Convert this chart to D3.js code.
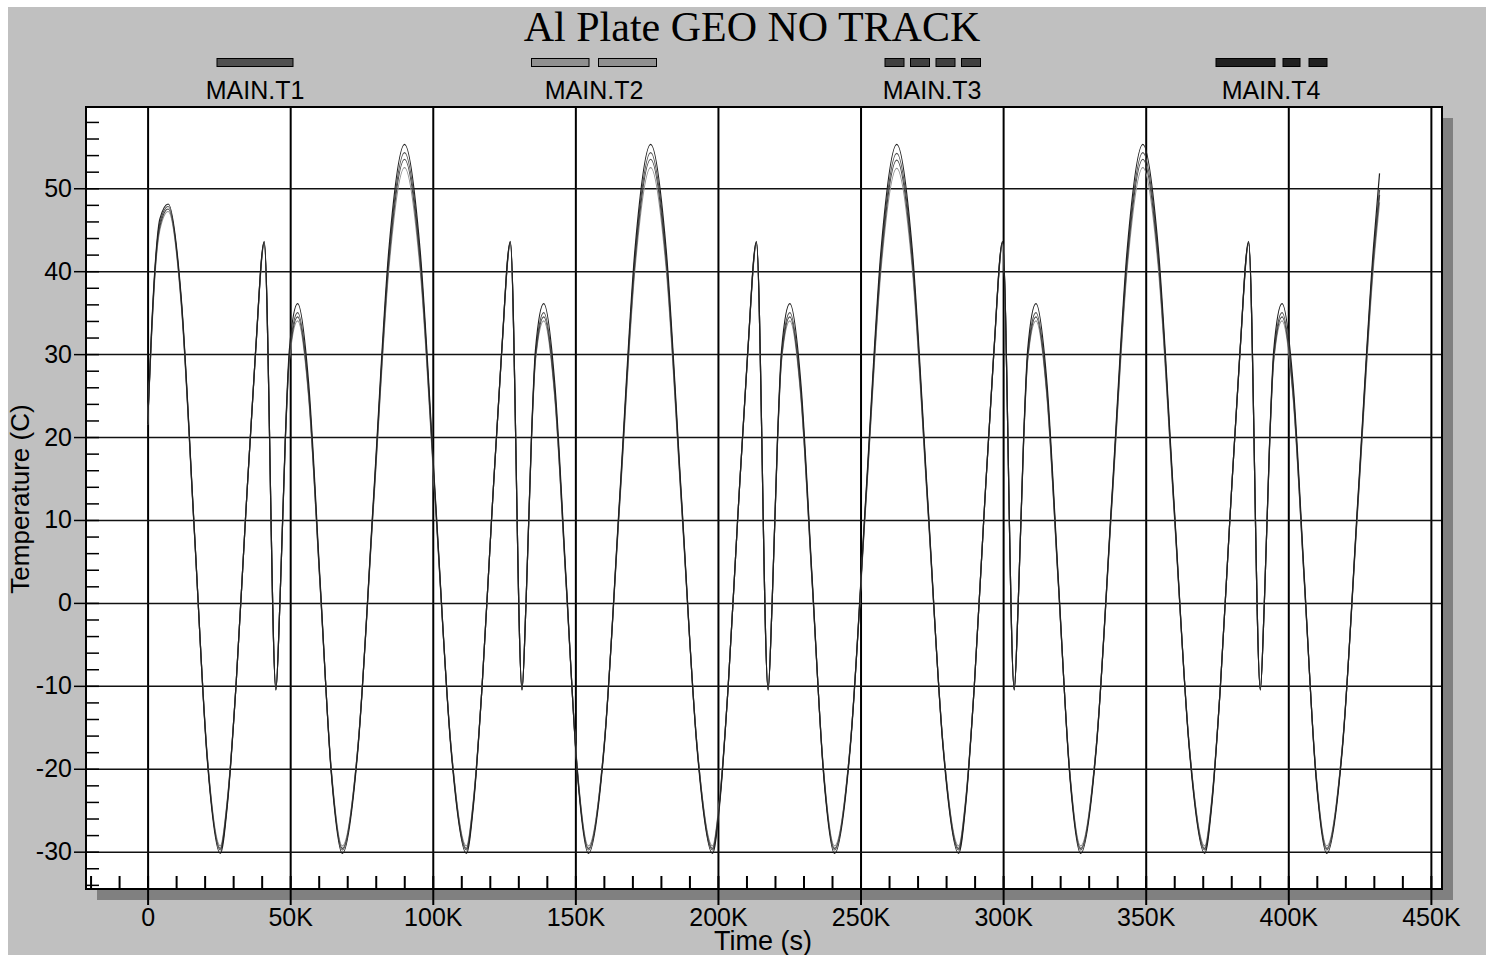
<!DOCTYPE html>
<html>
<head>
<meta charset="utf-8">
<script src="https://cdn.jsdelivr.net/npm/d3@7"></script>
<style>
  html, body { margin: 0; padding: 0; background: #fff; }
  svg text { font-family: "Liberation Sans", Arial, sans-serif; fill: #000; }
</style>
</head>
<body>
<div id="chart"></div>
<script>
// text
var chartTitle = 'Al Plate GEO NO TRACK';
var xLabel = 'Time (s)';
var yLabel = 'Temperature (C)';
var seriesNames = ['MAIN.T1', 'MAIN.T2', 'MAIN.T3', 'MAIN.T4'];
var seriesColors = ['#505050', '#909090', '#404040', '#202020'];

// ticks
var xTicks = [0, 50000, 100000, 150000, 200000, 250000, 300000, 350000, 400000, 450000];
var xTickLabels = ['0', '50K', '100K', '150K', '200K', '250K', '300K', '350K', '400K', '450K'];
var yTicks = [-30, -20, -10, 0, 10, 20, 30, 40, 50];
var yTickLabels = ['-30', '-20', '-10', '0', '10', '20', '30', '40', '50'];

// time (s) shared by all series
var timeS = [
  0, 1300, 2600, 4300, 7200, 11800, 16350, 20900, 25500,
  28000, 31000, 34300, 37800, 40900, 45000, 46400, 48300, 49700, 52600, 56500, 60450, 64400, 68300, 73750, 79200, 84650, 90100, 95500, 100950, 106400, 111800,
  114300, 117300, 120600, 124100, 127200, 131300, 132700, 134600, 136000, 138900, 142800, 146750, 150700, 154600, 160050, 165500, 170950, 176400, 181800, 187250, 192700, 198100,
  200600, 203600, 206900, 210400, 213500, 217600, 219000, 220900, 222300, 225200, 229100, 233050, 237000, 240900, 246350, 251800, 257250, 262700, 268100, 273550, 279000, 284400,
  286900, 289900, 293200, 296700, 299800, 303900, 305300, 307200, 308600, 311500, 315400, 319350, 323300, 327200, 332650, 338100, 343550, 349000, 354400, 359850, 365300, 370700,
  373200, 376200, 379500, 383000, 386100, 390200, 391600, 393500, 394900, 397800, 401700, 405650, 409600, 413500,
  418950, 424400, 429850, 432000
];

var mainT1 = [
  21.5, 32, 40.2, 45.8, 47.8, 36.5, 9, -18.6, -29.8,
  -24, -10, 10, 30, 43.5, -10.5, 0, 19.8, 29.8, 35.0, 25.5, 2.6, -20.3, -29.8, -17.4, 12.2, 41.9, 54.3, 41.9, 12.2, -17.4, -29.8,
  -24, -10, 10, 30, 43.5, -10.5, 0, 19.8, 29.8, 35.0, 25.5, 2.6, -20.3, -29.8, -17.4, 12.2, 41.9, 54.3, 41.9, 12.2, -17.4, -29.8,
  -24, -10, 10, 30, 43.5, -10.5, 0, 19.8, 29.8, 35.0, 25.5, 2.6, -20.3, -29.8, -17.4, 12.2, 41.9, 54.2, 41.9, 12.2, -17.4, -29.8,
  -24, -10, 10, 30, 43.5, -10.5, 0, 19.8, 29.8, 35.0, 25.5, 2.6, -20.3, -29.8, -17.4, 12.2, 41.9, 54.3, 41.9, 12.2, -17.4, -29.8,
  -24, -10, 10, 30, 43.5, -10.5, 0, 19.8, 29.8, 35.0, 25.5, 2.6, -20.3, -29.8,
  -17.4, 12.2, 41.9, 49.8
];

var mainT2 = [
  21.5, 31.5, 39.6, 45.0, 47.2, 36.0, 8.8, -18.3, -29.3,
  -23.6, -10, 10, 29.8, 43.2, -10.3, 0, 19.5, 29.2, 34.0, 24.7, 2.3, -20.0, -29.3, -17.3, 11.6, 40.5, 52.5, 40.5, 11.6, -17.3, -29.3,
  -23.6, -10, 10, 29.8, 43.2, -10.3, 0, 19.5, 29.2, 34.0, 24.7, 2.3, -20.0, -29.3, -17.3, 11.6, 40.5, 52.5, 40.5, 11.6, -17.3, -29.3,
  -23.6, -10, 10, 29.8, 43.2, -10.3, 0, 19.5, 29.2, 34.0, 24.7, 2.3, -20.0, -29.3, -17.3, 11.6, 40.5, 52.4, 40.5, 11.6, -17.3, -29.3,
  -23.6, -10, 10, 29.8, 43.2, -10.3, 0, 19.5, 29.2, 34.0, 24.7, 2.3, -20.0, -29.3, -17.3, 11.6, 40.5, 52.5, 40.5, 11.6, -17.3, -29.3,
  -23.6, -10, 10, 29.8, 43.2, -10.3, 0, 19.5, 29.2, 34.0, 24.7, 2.3, -20.0, -29.3,
  -17.3, 11.6, 40.5, 48.3
];

var mainT3 = [
  21.5, 31.8, 40.0, 45.4, 47.5, 36.3, 8.9, -18.5, -29.6,
  -23.8, -10, 10, 29.9, 43.4, -10.4, 0, 19.6, 29.5, 34.5, 25.1, 2.4, -20.2, -29.6, -17.4, 11.9, 41.3, 53.5, 41.3, 11.9, -17.4, -29.6,
  -23.8, -10, 10, 29.9, 43.4, -10.4, 0, 19.6, 29.5, 34.5, 25.1, 2.4, -20.2, -29.6, -17.4, 11.9, 41.3, 53.5, 41.3, 11.9, -17.4, -29.6,
  -23.8, -10, 10, 29.9, 43.4, -10.4, 0, 19.6, 29.5, 34.5, 25.1, 2.4, -20.2, -29.6, -17.4, 11.9, 41.3, 53.4, 41.3, 11.9, -17.4, -29.6,
  -23.8, -10, 10, 29.9, 43.4, -10.4, 0, 19.6, 29.5, 34.5, 25.1, 2.4, -20.2, -29.6, -17.4, 11.9, 41.3, 53.5, 41.3, 11.9, -17.4, -29.6,
  -23.8, -10, 10, 29.9, 43.4, -10.4, 0, 19.6, 29.5, 34.5, 25.1, 2.4, -20.2, -29.6,
  -17.4, 11.9, 41.3, 49.2
];

var mainT4 = [
  21.5, 32.3, 40.5, 46.3, 48.1, 36.8, 9.1, -18.8, -30.2,
  -24.3, -10, 10, 30, 43.6, -10.5, 0, 20, 30.5, 36.1, 26.4, 2.9, -20.5, -30.2, -17.7, 12.5, 42.8, 55.3, 42.8, 12.5, -17.7, -30.2,
  -24.3, -10, 10, 30, 43.6, -10.5, 0, 20, 30.5, 36.1, 26.4, 2.9, -20.5, -30.2, -17.7, 12.5, 42.8, 55.3, 42.8, 12.5, -17.7, -30.2,
  -24.3, -10, 10, 30, 43.6, -10.5, 0, 20, 30.5, 36.1, 26.4, 2.9, -20.5, -30.2, -17.7, 12.5, 42.8, 55.3, 42.8, 12.5, -17.7, -30.2,
  -24.3, -10, 10, 30, 43.6, -10.5, 0, 20, 30.5, 36.1, 26.4, 2.9, -20.5, -30.2, -17.7, 12.5, 42.8, 55.3, 42.8, 12.5, -17.7, -30.2,
  -24.3, -10, 10, 30, 43.6, -10.5, 0, 20, 30.5, 36.1, 26.4, 2.9, -20.5, -30.2,
  -17.7, 12.5, 42.8, 51.8
];

/*-------------------------------------------------------*/
function main(){
    var W = 1486, H = 955;
    var margin = { top: 107, left: 86, right: 44, bottom: 66 },
        width  = W - margin.left - margin.right,
        height = H - margin.top - margin.bottom;

    var x = d3.scaleLinear().domain([-21600, 453900]).range([0, width]);
    var y = d3.scaleLinear().domain([-34.5, 59.8]).range([height, 0]);

    var svg = d3.select('#chart').append('svg')
                .attr('width', W)
                .attr('height', H);

    // grey page
    svg.append('rect')
       .attr('x', 8).attr('y', 7)
       .attr('width', W - 8).attr('height', H - 7)
       .attr('fill', '#c0c0c0');

    // title
    svg.append('text')
       .attr('x', 752).attr('y', 41)
       .attr('text-anchor', 'middle')
       .style('font-family', '"Liberation Serif", "Times New Roman", serif')
       .style('font-size', '42px')
       .text(chartTitle);

    // legend
    var legendX = [255, 594, 932, 1271];
    var legendDash = [
        [[-38, 76]],
        [[-62.5, 57.5], [4.5, 58]],
        [[-47, 19], [-21.5, 19], [4, 19], [29.5, 19]],
        [[-55, 59], [12, 17], [38, 18]]
    ];
    var leg = svg.selectAll('.legend')
                 .data(seriesNames)
               .enter().append('g')
                 .attr('class', 'legend')
                 .attr('transform', (d, i) => 'translate(' + legendX[i] + ',0)');
    leg.each(function(d, i){
        d3.select(this).selectAll('rect')
          .data(legendDash[i])
        .enter().append('rect')
          .attr('x', (s) => s[0]).attr('y', 58.5)
          .attr('width', (s) => s[1]).attr('height', 8)
          .attr('fill', seriesColors[i])
          .attr('stroke', '#000').attr('stroke-width', 1);
    });
    leg.append('text')
       .attr('y', 99)
       .attr('text-anchor', 'middle')
       .style('font-size', '25px')
       .text((d) => d);

    // shadow + plot area
    svg.append('rect')
       .attr('x', margin.left + 11).attr('y', margin.top + 11)
       .attr('width', width).attr('height', height)
       .attr('fill', '#808080');

    var g = svg.append('g')
               .attr('transform', 'translate(' + margin.left + ',' + margin.top + ')');

    g.append('rect')
     .attr('width', width).attr('height', height)
     .attr('fill', '#fff');

    // grid lines
    g.append('g')
     .attr('class', 'grid')
     .call(d3.axisBottom(x).tickValues(xTicks).tickSize(height).tickFormat(''))
     .call((s) => s.select('.domain').remove())
     .selectAll('line')
       .attr('stroke', '#000').attr('stroke-width', 2);

    g.append('g')
     .attr('class', 'grid')
     .call(d3.axisRight(y).tickValues(yTicks).tickSize(width).tickFormat(''))
     .call((s) => s.select('.domain').remove())
     .selectAll('line')
       .attr('stroke', '#111').attr('stroke-width', 1.5);

    // minor ticks
    g.append('g')
     .call(d3.axisRight(y).tickValues(d3.range(-34, 59, 2)).tickSize(13).tickFormat(''))
     .call((s) => s.select('.domain').remove())
     .selectAll('line').attr('stroke', '#000').attr('stroke-width', 1.5);

    g.append('g')
     .attr('transform', 'translate(0,' + height + ')')
     .call(d3.axisTop(x).tickValues(d3.range(-20000, 450001, 10000)).tickSize(13).tickFormat(''))
     .call((s) => s.select('.domain').remove())
     .selectAll('line').attr('stroke', '#000').attr('stroke-width', 2);

    // series lines
    var series = [mainT1, mainT2, mainT3, mainT4];
    var line = d3.line()
                 .x((d, i) => x(timeS[i]))
                 .y((d) => y(d))
                 .curve(d3.curveMonotoneX);

    g.selectAll('.series')
     .data(series)
   .enter().append('path')
     .attr('class', 'series')
     .attr('fill', 'none')
     .attr('stroke', (d, i) => seriesColors[i])
     .attr('stroke-width', 1.2)
     .attr('d', line);

    // frame
    g.append('rect')
     .attr('width', width).attr('height', height)
     .attr('fill', 'none')
     .attr('stroke', '#000').attr('stroke-width', 2);

    // axes with labels
    var xAxis = g.append('g')
                 .attr('transform', 'translate(0,' + height + ')')
                 .call(d3.axisBottom(x).tickValues(xTicks).tickSize(16).tickPadding(3)
                         .tickFormat((d, i) => xTickLabels[i]));
    xAxis.select('.domain').remove();
    xAxis.selectAll('line').attr('stroke', '#000').attr('stroke-width', 2);
    xAxis.selectAll('text').style('font-size', '25px').attr('fill', '#000')
         .style('font-family', '"Liberation Sans", Arial, sans-serif');

    var yAxis = g.append('g')
                 .call(d3.axisLeft(y).tickValues(yTicks).tickSize(12).tickPadding(2)
                         .tickFormat((d, i) => yTickLabels[i]));
    yAxis.select('.domain').remove();
    yAxis.selectAll('line').attr('stroke', '#000').attr('stroke-width', 1.5);
    yAxis.selectAll('text').style('font-size', '25px').attr('fill', '#000')
         .style('font-family', '"Liberation Sans", Arial, sans-serif');

    // axis titles
    svg.append('text')
       .attr('x', 763).attr('y', 950)
       .attr('text-anchor', 'middle')
       .style('font-size', '27px')
       .text(xLabel);

    svg.append('text')
       .attr('transform', 'translate(29,499) rotate(-90)')
       .attr('text-anchor', 'middle')
       .style('font-size', '26px')
       .text(yLabel);
}

main();
</script>
</body>
</html>
